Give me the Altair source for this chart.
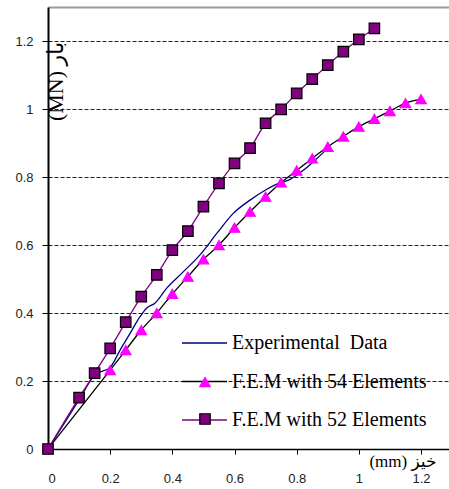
import altair as alt
import pandas as pd

# ---- data ----
exp_x = [0, 0.05, 0.1, 0.151, 0.2, 0.232, 0.264, 0.296, 0.317, 0.344, 0.382, 0.435,
         0.489, 0.543, 0.596, 0.65, 0.704, 0.736, 0.779, 0.816, 0.854, 0.888]
exp_y = [0, 0.072, 0.145, 0.218, 0.24, 0.291, 0.34, 0.389, 0.414, 0.429, 0.473, 0.521,
         0.571, 0.634, 0.693, 0.732, 0.764, 0.779, 0.793, 0.816, 0.845, 0.874]

fem54_x = [0, 0.2, 0.25, 0.3, 0.35, 0.4, 0.45, 0.5, 0.55, 0.6, 0.65, 0.7, 0.75, 0.8,
           0.85, 0.9, 0.95, 1.0, 1.05, 1.1, 1.15, 1.2]
fem54_y = [0, 0.232, 0.291, 0.35, 0.40, 0.456, 0.507, 0.558, 0.60, 0.651, 0.698, 0.742,
           0.784, 0.819, 0.855, 0.889, 0.919, 0.948, 0.971, 0.994, 1.017, 1.029]

fem52_x = [0, 0.1, 0.15, 0.2, 0.25, 0.3, 0.35, 0.4, 0.45, 0.5, 0.55, 0.6, 0.65, 0.7,
           0.75, 0.8, 0.85, 0.9, 0.95, 1.0, 1.05]
fem52_y = [0, 0.151, 0.223, 0.296, 0.373, 0.448, 0.512, 0.585, 0.641, 0.713, 0.781, 0.84,
           0.885, 0.958, 0.999, 1.046, 1.088, 1.129, 1.169, 1.205, 1.237]

series_names = ["Experimental\u00a0 Data", "F.E.M with 54 Elements", "F.E.M with 52 Elements"]
line_colors = ["#000080", "#000000", "#800080"]
marker_keys = ["tri", "sq"]
marker_shapes = ["triangle-up", "square"]
marker_fills = ["#FF00FF", "#800080"]
marker_strokes = ["#FF00FF", "#000000"]

tick_vals = [0, 0.2, 0.4, 0.6, 0.8, 1.0, 1.2]
x_title = "(mm) خیز"
y_title = "(MN) بار"

# ---- tables ----
rows = []
for name, xs, ys in zip(series_names, [exp_x, fem54_x, fem52_x], [exp_y, fem54_y, fem52_y]):
    for i, (a, b) in enumerate(zip(xs, ys)):
        rows.append({"x": a, "y": b, "series": name, "order": i})
lines_df = pd.DataFrame(rows)

prow = []
for key, xs, ys in zip(marker_keys, [fem54_x, fem52_x], [fem54_y, fem52_y]):
    for a, b in zip(xs, ys):
        prow.append({"x": a, "y": b, "marker": key})
points_df = pd.DataFrame(prow)

xscale = alt.Scale(domain=[0, 1.29], nice=False, zero=False)
yscale = alt.Scale(domain=[0, 1.3], nice=False)

y_axis = alt.Axis(
    values=tick_vals, format="~g", tickSize=6, tickColor="black", tickWidth=1,
    domainColor="black", domainWidth=2, grid=True, gridDash=[4, 2], gridColor="#222222",
    gridWidth=1, labelFont="Liberation Sans", labelFontSize=13, labelColor="#222222",
    labelPadding=9, title=y_title, titleFont="Liberation Serif, DejaVu Sans",
    titleFontSize=22, titleFontWeight="normal", titleColor="black", titleAngle=270,
    titleX=7, titleY=74, titleAlign="center", titleBaseline="middle",
)
y_enc = alt.Y("y:Q", scale=yscale, axis=y_axis)

x_axis_bottom = alt.Axis(
    values=tick_vals, format="~g", tickSize=5, tickColor="black", tickWidth=1,
    domainColor="black", domainWidth=1.5, grid=False, labelFont="Liberation Sans",
    labelFontSize=13, labelColor="#222222", labelPadding=18, labelBaseline="top",
    title=x_title, titleFont="Liberation Serif, DejaVu Sans", titleFontSize=17,
    titleFontWeight="normal", titleColor="black", titleX=388, titleY=12,
    titleAlign="right", titleBaseline="middle",
)
x_axis_top = alt.Axis(
    orient="top", ticks=False, labels=False, grid=False, domainColor="#9a9a9a",
    domainWidth=2, title=None,
)

legend_lines = alt.Legend(
    title=None, orient="none", legendX=137.5, legendY=317, padding=0,
    symbolType="M-1.25,0H1.25", symbolSize=1296, symbolStrokeWidth=1.5,
    labelFont="Liberation Serif", labelFontSize=20, labelColor="#000000",
    labelOffset=8.5, rowPadding=9.5, labelLimit=400,
)
legend_points = alt.Legend(
    title=None, orient="none", legendX=147.5, legendY=365.5, padding=0,
    symbolSize=110, symbolStrokeWidth=1.2, symbolOpacity=1,
    labelFontSize=19, labelExpr="''", rowPadding=17,
)

lines = alt.Chart(lines_df).mark_line(interpolate="monotone", strokeWidth=1.3).encode(
    x=alt.X("x:Q", scale=xscale, axis=x_axis_bottom),
    y=y_enc,
    color=alt.Color("series:N", scale=alt.Scale(domain=series_names, range=line_colors),
                    legend=legend_lines),
    order="order:Q",
)

points = alt.Chart(points_df).mark_point(filled=True, opacity=1, size=110, strokeWidth=1.2).encode(
    x=alt.X("x:Q", scale=xscale, axis=x_axis_top),
    y=y_enc,
    shape=alt.Shape("marker:N", scale=alt.Scale(domain=marker_keys, range=marker_shapes),
                    legend=legend_points),
    fill=alt.Fill("marker:N", scale=alt.Scale(domain=marker_keys, range=marker_fills),
                  legend=legend_points),
    stroke=alt.Stroke("marker:N", scale=alt.Scale(domain=marker_keys, range=marker_strokes),
                      legend=legend_points),
)

chart = alt.layer(lines, points).resolve_axis(x="independent").properties(
    width=401, height=442,
    autosize=alt.AutoSizeParams(type="none"),
    padding={"left": 48, "top": 7, "right": 0, "bottom": 40},
    background="white",
).configure_view(stroke=None)

chart.save("out.html", embed_options={"renderer": "svg", "actions": False})
